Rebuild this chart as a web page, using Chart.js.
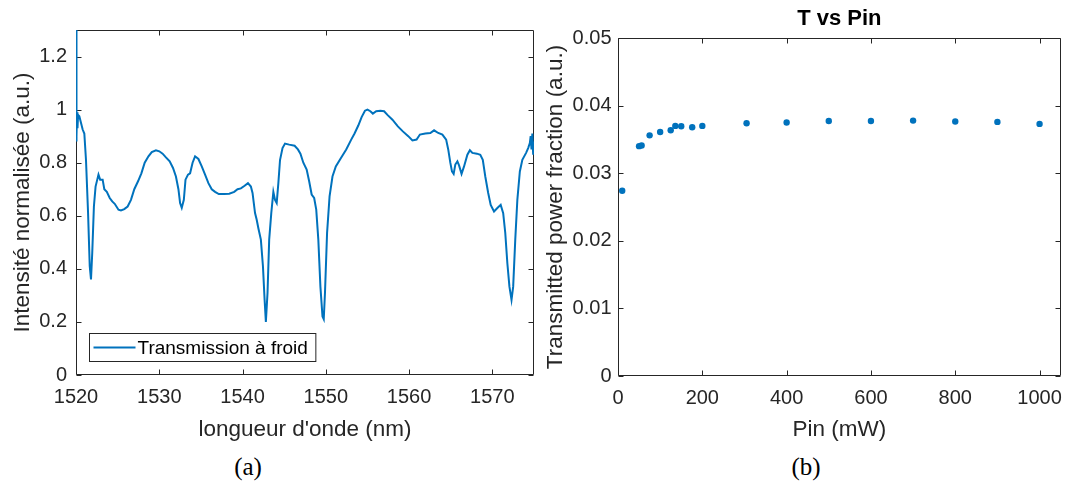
<!DOCTYPE html>
<html>
<head>
<meta charset="utf-8">
<script src="https://cdn.jsdelivr.net/npm/chart.js@4.4.1/dist/chart.umd.min.js"></script>
<style>
    html, body { margin: 0; padding: 0; background: #fff; }
    body { width: 1072px; height: 486px; position: relative; overflow: hidden; }
    .panel { position: absolute; top: 0; height: 450px; }
    #left  { left: 0; width: 540px; }
    #right { left: 540px; width: 532px; }
    .caption {
        position: absolute; top: 453px; line-height: 30px;
        font: 25px "Liberation Serif", serif; color: #000;
        transform: translateX(-50%);
    }
</style>
</head>
<body>
<div class="panel" id="left"><canvas id="chartA"></canvas></div>
<div class="panel" id="right"><canvas id="chartB"></canvas></div>
<div class="caption" style="left:248px">(a)</div>
<div class="caption" style="left:806px">(b)</div>
<script>
// (a) cold transmission spectrum
const waveNm = [
    1520.00, 1520.03, 1520.06, 1520.09, 1520.13, 1520.18, 1520.25, 1520.40, 1520.80, 1521.00,
    1521.20, 1521.45, 1521.65, 1521.80, 1521.95, 1522.15, 1522.35, 1522.70, 1522.90, 1523.20,
    1523.40, 1523.70, 1524.05, 1524.35, 1524.65, 1525.10, 1525.40, 1525.80, 1526.20, 1526.60,
    1527.00, 1527.45, 1527.85, 1528.25, 1528.70, 1529.10, 1529.60, 1530.00, 1530.40, 1530.80,
    1531.25, 1531.65, 1532.00, 1532.30, 1532.50, 1532.70, 1532.95, 1533.15, 1533.45, 1533.70,
    1534.00, 1534.30, 1534.70, 1535.10, 1535.50, 1535.90, 1536.30, 1536.70, 1537.15, 1537.80,
    1538.40, 1539.00, 1539.40, 1539.80, 1540.25, 1540.65, 1541.00, 1541.20, 1541.50, 1541.70,
    1541.90, 1542.20, 1542.45, 1542.65, 1542.80, 1543.00, 1543.20, 1543.45, 1543.70, 1543.90,
    1544.10, 1544.30, 1544.50, 1544.80, 1545.10, 1545.60, 1546.25, 1546.65, 1546.95, 1547.30,
    1547.70, 1548.00, 1548.30, 1548.60, 1548.85, 1549.10, 1549.35, 1549.60, 1549.75, 1549.90,
    1550.15, 1550.45, 1550.80, 1551.20, 1551.80, 1552.45, 1553.05, 1553.45, 1553.90, 1554.30,
    1554.70, 1555.00, 1555.35, 1555.65, 1556.05, 1556.55, 1557.00, 1557.40, 1558.00, 1558.65,
    1559.25, 1559.90, 1560.40, 1560.90, 1561.30, 1561.95, 1562.55, 1563.00, 1563.50, 1564.00,
    1564.45, 1564.70, 1564.95, 1565.15, 1565.35, 1565.55, 1565.80, 1566.00, 1566.30, 1566.60,
    1567.00, 1567.30, 1567.60, 1568.15, 1568.55, 1568.85, 1569.15, 1569.50, 1569.80, 1570.20,
    1570.60, 1571.00, 1571.30, 1571.55, 1571.80, 1572.05, 1572.30, 1572.50, 1572.75, 1573.00,
    1573.30, 1573.60, 1574.05, 1574.30, 1574.50, 1574.60, 1574.70, 1574.80, 1574.90, 1575.00
];
const transmission = [
    1.30, 0.88, 1.01, 0.90, 0.99, 0.93, 0.98, 0.975, 0.925, 0.91,
    0.81, 0.61, 0.41, 0.36, 0.46, 0.635, 0.71, 0.755, 0.736, 0.736,
    0.70, 0.69, 0.667, 0.654, 0.645, 0.623, 0.62, 0.625, 0.635, 0.66,
    0.70, 0.73, 0.76, 0.80, 0.824, 0.84, 0.847, 0.843, 0.834, 0.82,
    0.805, 0.78, 0.748, 0.70, 0.648, 0.63, 0.66, 0.736, 0.755, 0.76,
    0.80, 0.824, 0.814, 0.786, 0.755, 0.723, 0.70, 0.69, 0.682, 0.682,
    0.683, 0.69, 0.70, 0.703, 0.713, 0.723, 0.71, 0.686, 0.61, 0.585,
    0.553, 0.51, 0.41, 0.283, 0.20, 0.31, 0.51, 0.61, 0.69, 0.66,
    0.648, 0.723, 0.81, 0.855, 0.872, 0.868, 0.864, 0.85, 0.834, 0.80,
    0.774, 0.73, 0.68, 0.667, 0.623, 0.51, 0.333, 0.22, 0.21, 0.31,
    0.535, 0.673, 0.748, 0.786, 0.817, 0.85, 0.887, 0.91, 0.94, 0.972,
    0.996, 1.00, 0.994, 0.985, 0.994, 0.996, 0.994, 0.98, 0.962, 0.937,
    0.918, 0.90, 0.884, 0.887, 0.906, 0.91, 0.912, 0.922, 0.912, 0.906,
    0.887, 0.85, 0.80, 0.767, 0.758, 0.793, 0.805, 0.79, 0.758, 0.786,
    0.83, 0.847, 0.837, 0.834, 0.83, 0.811, 0.748, 0.686, 0.641, 0.616,
    0.629, 0.641, 0.61, 0.535, 0.421, 0.333, 0.283, 0.333, 0.51, 0.66,
    0.767, 0.811, 0.837, 0.855, 0.874, 0.90, 0.85, 0.91, 0.83, 0.88
];

// (b) transmitted fraction vs input power
const pinMw         = [10, 50, 56, 75, 100, 125, 136, 150, 176, 200, 305, 400, 500, 600, 700, 800, 900, 1000];
const transFraction = [0.0274, 0.0340, 0.0341, 0.0356, 0.0361, 0.03635, 0.0370, 0.03695, 0.0368, 0.0370,
                       0.03739, 0.03749, 0.03773, 0.03773, 0.03778, 0.03764, 0.03759, 0.03729];

const waveTicks  = [1520, 1530, 1540, 1550, 1560, 1570];
const intenTicks = [0, 0.2, 0.4, 0.6, 0.8, 1, 1.2];
const pinTicks   = [0, 200, 400, 600, 800, 1000];
const fracTicks  = [0, 0.01, 0.02, 0.03, 0.04, 0.05];

const BLUE     = '#0072BD';
const AXIS     = '#262626';
const SANS     = '"Liberation Sans", Arial, sans-serif';
const TICK_LEN = 5;

// box around the axes with inward ticks on all four sides, like matlab
const matlabBox = {
    id: 'matlabBox',
    beforeDatasetsDraw (chart)
    {
        const ctx = chart.ctx;
        const a   = chart.chartArea;
        const sx  = chart.scales.x;
        const sy  = chart.scales.y;
        const l   = Math.round(a.left) + 0.5;
        const r   = Math.round(a.right) - 0.5;
        const t   = Math.round(a.top) + 0.5;
        const b   = Math.round(a.bottom) - 0.5;

        ctx.save();
        ctx.strokeStyle = AXIS;
        ctx.lineWidth   = 1;
        ctx.beginPath();

        for (let i = 0; i < sx.ticks.length; ++i) {
            const px = Math.round(sx.getPixelForValue(sx.ticks[i].value)) + 0.5;
            ctx.moveTo(px, b);
            ctx.lineTo(px, b - TICK_LEN);
            ctx.moveTo(px, t);
            ctx.lineTo(px, t + TICK_LEN);
        }

        for (let i = 0; i < sy.ticks.length; ++i) {
            const py = Math.round(sy.getPixelForValue(sy.ticks[i].value)) + 0.5;
            ctx.moveTo(l, py);
            ctx.lineTo(l + TICK_LEN, py);
            ctx.moveTo(r, py);
            ctx.lineTo(r - TICK_LEN, py);
        }

        ctx.rect(l, t, r - l, b - t);
        ctx.stroke();
        ctx.restore();
    }
};

// legend box in the lower left corner of the axes
const boxLegend = {
    id: 'boxLegend',
    afterDraw (chart, args, opts)
    {
        if (!opts.show) {
            return;
        }

        const ctx   = chart.ctx;
        const a     = chart.chartArea;
        const label = chart.data.datasets[0].label;

        ctx.save();
        ctx.font = '19px ' + SANS;

        const w = 49 + ctx.measureText(label).width + 7;
        const x = Math.round(a.left + 13) + 0.5;
        const y = Math.round(a.bottom - 42) + 0.5;
        const h = 28;

        ctx.fillStyle = '#fff';
        ctx.fillRect(x, y, w, h);
        ctx.strokeStyle = AXIS;
        ctx.lineWidth   = 1;
        ctx.strokeRect(x, y, w, h);

        ctx.strokeStyle = BLUE;
        ctx.lineWidth   = 2;
        ctx.beginPath();
        ctx.moveTo(x + 4, y + h / 2);
        ctx.lineTo(x + 46, y + h / 2);
        ctx.stroke();

        ctx.fillStyle    = '#000';
        ctx.textBaseline = 'middle';
        ctx.fillText(label, x + 48, y + h / 2 + 1);
        ctx.restore();
    }
};

// title centred over the axes rather than over the canvas
const axesTitle = {
    id: 'axesTitle',
    afterDraw (chart, args, opts)
    {
        if (!opts.text) {
            return;
        }

        const ctx = chart.ctx;
        const a   = chart.chartArea;

        ctx.save();
        ctx.font         = 'bold 22px ' + SANS;
        ctx.fillStyle    = '#000';
        ctx.textAlign    = 'center';
        ctx.textBaseline = 'middle';
        ctx.fillText(opts.text, (a.left + a.right) / 2, 19);
        ctx.restore();
    }
};

function makeAxis (min, max, ticks, title, opts)
{
    return {
        type: 'linear',
        min: min,
        max: max,
        grid: { display: false, drawTicks: false },
        border: { display: false },
        afterBuildTicks: (scale) => { scale.ticks = ticks.map((v) => ({ value: v })); },
        afterFit: (scale) => {
            if (scale.isHorizontal()) {
                scale.height = opts.size;
            } else {
                scale.width = opts.size;
            }
        },
        ticks: {
            color: AXIS,
            padding: opts.pad,
            font: { family: SANS, size: 20, lineHeight: 1.2 },
            callback: (v) => String(v),
            maxRotation: 0,
            autoSkip: false
        },
        title: {
            display: true,
            text: title,
            color: AXIS,
            font: { family: SANS, size: 22.5, lineHeight: 1.2 },
            padding: opts.titlePad
        }
    };
}

const spectrum = [];
for (let i = 0; i < waveNm.length; ++i) {
    spectrum.push({ x: waveNm[i], y: transmission[i] });
}

const powerPts = [];
for (let i = 0; i < pinMw.length; ++i) {
    powerPts.push({ x: pinMw[i], y: transFraction[i] });
}

new Chart(document.getElementById('chartA').getContext('2d'), {
    type: 'line',
    data: {
        datasets: [{
            label: 'Transmission à froid',
            data: spectrum,
            borderColor: BLUE,
            borderWidth: 2,
            pointRadius: 0,
            tension: 0,
            fill: false
        }]
    },
    options: {
        responsive: true,
        maintainAspectRatio: false,
        animation: false,
        devicePixelRatio: 1,
        layout: { padding: { top: 30, right: 6, left: 0, bottom: 0 } },
        plugins: {
            legend: { display: false },
            tooltip: { enabled: false },
            boxLegend: { show: true }
        },
        scales: {
            x: makeAxis(1520, 1575, waveTicks, 'longueur d\'onde (nm)', { size: 75, pad: 10, titlePad: { top: 0, bottom: 7 } }),
            y: makeAxis(0, 1.3, intenTicks, 'Intensité normalisée (a.u.)', { size: 76, pad: 9, titlePad: { top: 9, bottom: 0 } })
        }
    },
    plugins: [matlabBox, boxLegend]
});

new Chart(document.getElementById('chartB').getContext('2d'), {
    type: 'scatter',
    data: {
        datasets: [{
            label: 'T',
            data: powerPts,
            backgroundColor: BLUE,
            borderWidth: 0,
            pointRadius: 3.2
        }]
    },
    options: {
        responsive: true,
        maintainAspectRatio: false,
        animation: false,
        devicePixelRatio: 1,
        layout: { padding: { top: 38, right: 4, left: 0, bottom: 0 } },
        plugins: {
            legend: { display: false },
            tooltip: { enabled: false },
            axesTitle: { text: 'T vs Pin' }
        },
        scales: {
            x: makeAxis(0, 1050, pinTicks, 'Pin (mW)', { size: 74, pad: 10, titlePad: { top: 0, bottom: 7 } }),
            y: makeAxis(0, 0.05, fracTicks, 'Transmitted power fraction (a.u.)', { size: 78, pad: 6.5, titlePad: { top: 2, bottom: 0 } })
        }
    },
    plugins: [matlabBox, axesTitle]
});
</script>
</body>
</html>
